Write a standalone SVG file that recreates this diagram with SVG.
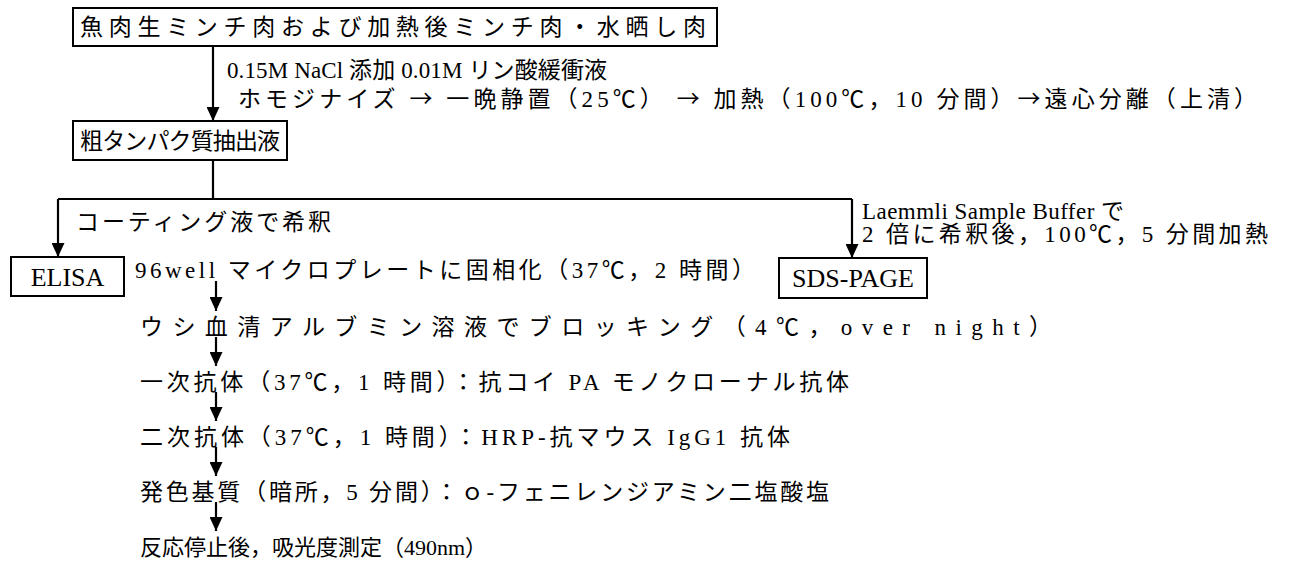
<svg xmlns="http://www.w3.org/2000/svg" width="1293" height="566" viewBox="0 0 1293 566">
<style>
text{font-family:"Liberation Serif","Noto Sans CJK JP",serif;font-size:23px;fill:#000}
.lbl{font-size:26px}
.sm{font-size:22px}
.ar{font-family:"Noto Sans CJK JP",sans-serif}
.box{fill:#fff;stroke:#000;stroke-width:2}
.ln{fill:none;stroke:#000;stroke-width:2.2}
</style>
<defs>
<marker id="ah" viewBox="0 0 14 13" refX="14" refY="6.5" markerWidth="14" markerHeight="13" markerUnits="userSpaceOnUse" orient="auto">
<path d="M0,0 L14,6.5 L0,13 Z" fill="#000"/>
</marker>
</defs>
<rect width="1293" height="566" fill="#fff"/>
<g id="connectors">
<line class="ln" x1="213" y1="46" x2="213" y2="121" marker-end="url(#ah)"/>
<polyline class="ln" points="213,160 213,199"/>
<polyline class="ln" points="58,199 852,199"/>
<line class="ln" x1="58" y1="199" x2="58" y2="257" marker-end="url(#ah)"/>
<line class="ln" x1="852" y1="199" x2="852" y2="258" marker-end="url(#ah)"/>
<line class="ln" x1="216" y1="281" x2="216" y2="311" marker-end="url(#ah)"/>
<line class="ln" x1="216" y1="337" x2="216" y2="366" marker-end="url(#ah)"/>
<line class="ln" x1="216" y1="392" x2="216" y2="421" marker-end="url(#ah)"/>
<line class="ln" x1="216" y1="447" x2="216" y2="476" marker-end="url(#ah)"/>
<line class="ln" x1="216" y1="502" x2="216" y2="531" marker-end="url(#ah)"/>
</g>
<g id="n-source">
<rect class="box" x="73" y="8" width="644" height="38"/>
<text x="80" y="35" textLength="626" lengthAdjust="spacing">魚肉生ミンチ肉および加熱後ミンチ肉・水晒し肉</text>
</g>
<g id="n-step1-label">
<text x="227" y="78" textLength="380" lengthAdjust="spacing">0.15M NaCl 添加 0.01M リン酸緩衝液</text>
<text x="238" y="107" textLength="1019" lengthAdjust="spacing">ホモジナイズ <tspan class="ar">→</tspan> 一晩静置（25℃） <tspan class="ar">→</tspan> 加熱（100℃，10 分間）<tspan class="ar">→</tspan>遠心分離（上清）</text>
</g>
<g id="n-extract">
<rect class="box" x="73" y="121" width="214" height="39"/>
<text x="80" y="149" textLength="200" lengthAdjust="spacing">粗タンパク質抽出液</text>
</g>
<g id="n-coat-label">
<text x="76" y="230" textLength="255" lengthAdjust="spacing">コーティング液で希釈</text>
</g>
<g id="n-sds-label">
<text x="862" y="219" textLength="262" lengthAdjust="spacing">Laemmli Sample Buffer で</text>
<text x="862" y="242" textLength="406" lengthAdjust="spacing">2 倍に希釈後，100℃，5 分間加熱</text>
</g>
<g id="n-elisa">
<rect class="box" x="11" y="257" width="113" height="39"/>
<text class="lbl" x="67.5" y="286" text-anchor="middle">ELISA</text>
</g>
<g id="n-sds">
<rect class="box" x="779" y="258" width="148" height="40"/>
<text class="lbl" x="853" y="287" text-anchor="middle">SDS-PAGE</text>
</g>
<g id="n-s1"><text x="135" y="278" textLength="620" lengthAdjust="spacing">96well  マイクロプレートに固相化（37℃，2 時間）</text></g>
<g id="n-s2"><text x="140" y="335" textLength="912" lengthAdjust="spacing">ウシ血清アルブミン溶液でブロッキング（4℃，over night）</text></g>
<g id="n-s3"><text x="140" y="390" textLength="709" lengthAdjust="spacing">一次抗体（37℃，1 時間）：抗コイ PA モノクローナル抗体</text></g>
<g id="n-s4"><text x="140" y="445" textLength="650" lengthAdjust="spacing">二次抗体（37℃，1 時間）：HRP‑抗マウス IgG1 抗体</text></g>
<g id="n-s5"><text x="140" y="500" textLength="689" lengthAdjust="spacing">発色基質（暗所，5 分間）：ｏ‑フェニレンジアミン二塩酸塩</text></g>
<g id="n-s6"><text class="sm" x="140" y="555">反応停止後，吸光度測定（490nm）</text></g>
</svg>
